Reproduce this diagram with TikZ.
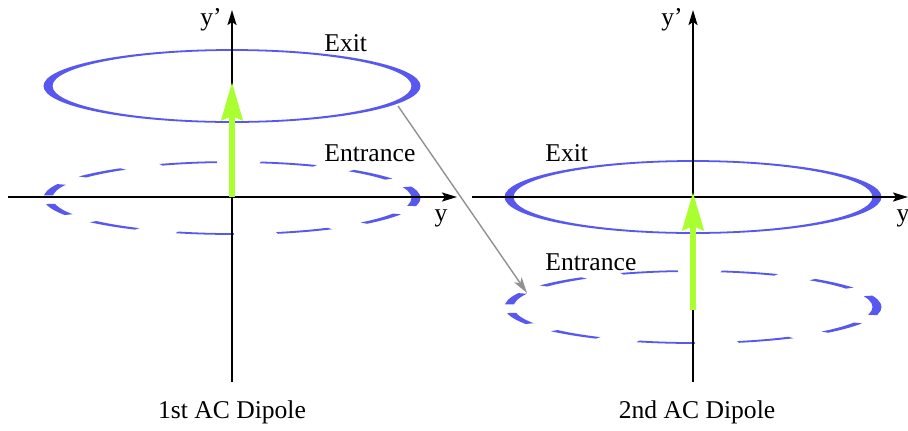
\documentclass[tikz,border=0pt]{standalone}
\usepackage{fontspec}
\setmainfont{Liberation Serif}
\usetikzlibrary{arrows.meta}
\definecolor{ringblue}{RGB}{88,88,238}
\definecolor{kickgreen}{RGB}{170,255,48}
\definecolor{movegrey}{RGB}{145,145,145}
\tikzset{
  axis/.style={line width=1pt, -{Stealth[length=7.5pt,width=4.5pt,inset=1.5pt]}},
  kick/.style={line width=3pt, kickgreen, -{Stealth[length=19pt,width=10.5pt,inset=2pt]}},
  move/.style={line width=0.7pt, movegrey, -{Stealth[length=8pt,width=4.5pt,inset=2pt]}},
  ring/.style={line width=4.5pt, ringblue},
  dashring/.style={ring, dash pattern=on 28.9pt off 21.8pt},
  lbl/.style={font=\fontsize{12.8}{15}\selectfont, inner sep=0pt, anchor=base west}
}
\begin{document}
\begin{tikzpicture}[x=0.5pt,y=-0.5pt]
\useasboundingbox (0,0) rectangle (908,430);
% ring centres
\coordinate (exitA) at (232,86);
\coordinate (entA) at (232,198);
\coordinate (exitB) at (693,197);
\coordinate (entB) at (693,307);
% orbits (canvas squeezed, so the line is thick at the ends)
\begin{scope}[transform canvas={shift={(exitA)},yscale=-0.1957}]
\draw[ring] (0,0) circle (184);
\end{scope}
\begin{scope}[transform canvas={shift={(entA)},yscale=-0.1957}]
\draw[dashring] (0,0) circle (184);
\end{scope}
\begin{scope}[transform canvas={shift={(exitB)},yscale=-0.1957}]
\draw[ring] (0,0) circle (184);
\end{scope}
\begin{scope}[transform canvas={shift={(entB)},yscale=-0.1957}]
\draw[dashring] (0,0) circle (184);
\end{scope}
% axes
\coordinate (hA0) at (8,197);
\coordinate (hA1) at (457,197);
\coordinate (vA0) at (232,382);
\coordinate (vA1) at (232,10);
\coordinate (hB0) at (472,197);
\coordinate (hB1) at (908,197);
\coordinate (vB0) at (693,382);
\coordinate (vB1) at (693,10);
\draw[axis] (hA0) -- (hA1);
\draw[axis] (vA0) -- (vA1);
\draw[axis] (hB0) -- (hB1);
\draw[axis] (vB0) -- (vB1);
% kicks
\coordinate (kA0) at (232,197);
\coordinate (kA1) at (232,82);
\coordinate (kB0) at (693,310);
\coordinate (kB1) at (693,192);
\draw[kick] (kA0) -- (kA1);
\draw[kick] (kB0) -- (kB1);
% exit of the 1st goes to the entrance of the 2nd
\coordinate (mv0) at (398,106);
\coordinate (mv1) at (527,293);
\draw[move] (mv0) -- (mv1);
% labels
\node[lbl, anchor=base] (yA) at (441,221) {y};
\node[lbl, anchor=base] (ypA) at (211,25) {y’};
\node[lbl, anchor=base] (yB) at (903,221) {y};
\node[lbl, anchor=base] (ypB) at (672,25) {y’};
\node[lbl] (exitAl) at (324,51) {Exit};
\node[lbl] (entAl) at (324,161) {Entrance};
\node[lbl] (exitBl) at (545,161) {Exit};
\node[lbl] (entBl) at (545,270) {Entrance};
\node[lbl, anchor=base] (dipA) at (232,418) {1st AC Dipole};
\node[lbl, anchor=base] (dipB) at (697,418) {2nd AC Dipole};
\end{tikzpicture}
\end{document}
